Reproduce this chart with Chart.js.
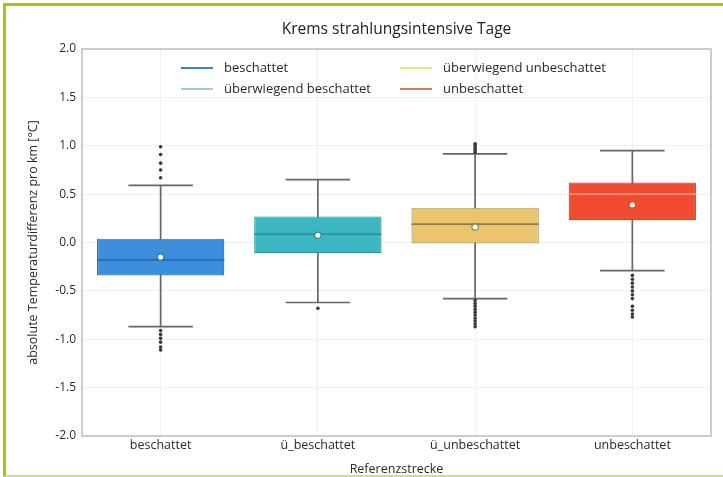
<!DOCTYPE html>
<html>
<head>
<meta charset="utf-8">
<script src="https://cdn.jsdelivr.net/npm/chart.js@4.4.1/dist/chart.umd.min.js"></script>
<style>
  html, body { margin: 0; padding: 0; background: #fff; }
  #wrap { position: relative; width: 723px; height: 477px; overflow: hidden; }
  #frame { position: absolute; left: 3px; top: 3px; width: 740px; height: 474px; border: 3px solid #a6c70a; border-bottom: 2px solid #cfe27a; box-sizing: border-box; pointer-events: none; }
  canvas { position: absolute; left: 0; top: 0; }
</style>
</head>
<body>
<div id="wrap">
  <canvas id="c" width="723" height="477"></canvas>
  <div id="frame"></div>
</div>
<script>
// Reference sections (x categories) and legend names
const categories = ['beschattet', 'ü_beschattet', 'ü_unbeschattet', 'unbeschattet'];
const legendNames = ['beschattet', 'überwiegend beschattet', 'überwiegend unbeschattet', 'unbeschattet'];
const chartTitle = 'Krems strahlungsintensive Tage';

// Box statistics per category (°C per km)
const q1Values      = [-0.34, -0.11, -0.01, 0.23];
const q3Values      = [0.04, 0.27, 0.36, 0.62];
const medianValues  = [-0.18, 0.085, 0.19, 0.50];
const meanValues    = [-0.15, 0.075, 0.16, 0.39];
const whiskerLow    = [-0.87, -0.62, -0.58, -0.29];
const whiskerHigh   = [0.59, 0.65, 0.915, 0.95];

// Outliers per category
const outliers = [
  [0.67, 0.75, 0.82, 0.91, 0.99, -0.91, -0.95, -0.99, -1.03, -1.08, -1.11],
  [-0.68],
  [0.93, 0.95, 0.97, 0.99, 1.01, 1.02, -0.60, -0.63, -0.66, -0.69, -0.72, -0.75, -0.78, -0.81, -0.84, -0.87],
  [-0.34, -0.38, -0.42, -0.46, -0.50, -0.54, -0.58, -0.66, -0.70, -0.74, -0.77]
];

// Y axis ticks
const yTicks = [-2.0, -1.5, -1.0, -0.5, 0.0, 0.5, 1.0, 1.5, 2.0];

// Colours
const boxFill   = ['#3a8edb', '#3bb6c2', '#eac46e', '#f04c31'];
const boxEdge   = ['#2f73b8', '#2e97a0', '#b39a55', '#e5452c'];
const medianCol = ['#2b69a8', '#2a8a93', '#8f7d45', '#f68a74'];
const legendCol = ['#3f7fcf', '#9ccfcf', '#f1df8c', '#df7658'];
const whiskerCol = '#666666';

// Segment builders for the line datasets (gaps separate the segments)
function segments(pairs) {
  const out = [];
  pairs.forEach(p => { out.push(p[0], p[1], {x: p[1].x, y: null}); });
  return out;
}
const whiskerData = segments(categories.map((c, i) => [{x: i, y: whiskerLow[i]}, {x: i, y: whiskerHigh[i]}]));
const capData = segments(
  categories.flatMap((c, i) => [
    [{x: i - 0.205, y: whiskerLow[i]}, {x: i + 0.205, y: whiskerLow[i]}],
    [{x: i - 0.205, y: whiskerHigh[i]}, {x: i + 0.205, y: whiskerHigh[i]}]
  ])
);
const medianDatasets = categories.map((c, i) => ({
  type: 'line',
  xAxisID: 'x2',
  data: [{x: i - 0.405, y: medianValues[i]}, {x: i + 0.405, y: medianValues[i]}],
  borderColor: medianCol[i],
  borderWidth: 1.6,
  pointRadius: 0,
  order: 1
}));
const outlierData = outliers.flatMap((vals, i) => vals.map(v => ({x: i, y: v})));
const meanData = meanValues.map((v, i) => ({x: i, y: v}));

// Title centred over the plot area
const titlePlugin = {
  id: 'plotTitle',
  afterDraw(chart) {
    const ctx = chart.ctx, a = chart.chartArea;
    ctx.save();
    ctx.font = '15.5px "Open Sans"';
    ctx.fillStyle = '#222';
    ctx.textAlign = 'center';
    ctx.textBaseline = 'middle';
    ctx.fillText(chartTitle, (a.left + a.right) / 2, 30);
    ctx.restore();
  }
};

// Legend drawn inside the plot area, two columns
const legendPlugin = {
  id: 'innerLegend',
  afterDraw(chart) {
    const ctx = chart.ctx;
    const a = chart.chartArea;
    const cols = [a.left + 99, a.left + 318];
    const rows = [a.top + 19, a.top + 40];
    const order = [[0, 0], [1, 0], [0, 1], [1, 1]]; // [row, col] for each legend name
    ctx.save();
    ctx.font = '13px "Open Sans"';
    ctx.textBaseline = 'middle';
    ctx.textAlign = 'left';
    legendNames.forEach((name, i) => {
      const [r, c] = order[i];
      const x = cols[c], y = rows[r];
      ctx.strokeStyle = legendCol[i];
      ctx.lineWidth = 2;
      ctx.beginPath();
      ctx.moveTo(x, y);
      ctx.lineTo(x + 32, y);
      ctx.stroke();
      ctx.fillStyle = '#2a2a2a';
      ctx.fillText(name, x + 43, y);
    });
    ctx.restore();
  }
};

// Plot frame on all four sides
const framePlugin = {
  id: 'plotFrame',
  afterDatasetsDraw(chart) {
    const ctx = chart.ctx, a = chart.chartArea;
    ctx.save();
    ctx.strokeStyle = '#bdbdbd';
    ctx.lineWidth = 1.5;
    ctx.strokeRect(a.left, a.top, a.right - a.left, a.bottom - a.top);
    ctx.restore();
  }
};

new Chart(document.getElementById('c'), {
  type: 'bar',
  data: {
    labels: categories,
    datasets: [
      {
        type: 'bar',
        data: categories.map((c, i) => [q1Values[i], q3Values[i]]),
        backgroundColor: boxFill,
        borderColor: boxEdge,
        borderWidth: 1.2,
        borderSkipped: false,
        grouped: false,
        barPercentage: 0.81,
        categoryPercentage: 1.0,
        order: 2
      },
      {
        type: 'line',
        xAxisID: 'x2',
        data: whiskerData,
        borderColor: whiskerCol,
        borderWidth: 1.7,
        pointRadius: 0,
        spanGaps: false,
        order: 3
      },
      {
        type: 'line',
        xAxisID: 'x2',
        data: capData,
        borderColor: whiskerCol,
        borderWidth: 1.7,
        pointRadius: 0,
        spanGaps: false,
        order: 3
      },
      ...medianDatasets,
      {
        type: 'scatter',
        xAxisID: 'x2',
        data: outlierData,
        pointRadius: 1.8,
        pointBackgroundColor: '#3a3a3a',
        pointBorderColor: '#3a3a3a',
        pointBorderWidth: 0,
        order: 0
      },
      {
        type: 'scatter',
        xAxisID: 'x2',
        data: meanData,
        pointRadius: 3.2,
        pointBackgroundColor: '#ffffff',
        pointBorderColor: ['#2f73b8', '#2a8a93', '#8f7d45', '#e5452c'],
        pointBorderWidth: 1.2,
        order: 0
      }
    ]
  },
  options: {
    responsive: false,
    animation: false,
    events: [],
    layout: { padding: { left: 0, right: 12, top: 49, bottom: 0 } },
    plugins: {
      legend: { display: false },
      tooltip: { enabled: false },
      title: { display: false }
    },
    scales: {
      x: {
        type: 'category',
        offset: true,
        grid: { color: '#f0f0f0', lineWidth: 1, drawTicks: false, offset: false },
        border: { display: false },
        ticks: { color: '#2a2a2a', font: { family: '"Open Sans"', size: 12.5 }, padding: 2, maxRotation: 0 },
        title: { display: true, text: 'Referenzstrecke', color: '#2a2a2a', font: { family: '"Open Sans"', size: 12.5, lineHeight: 1.2 }, padding: { top: 6, bottom: 0 } },
        afterFit(s) { s.height = 41; }
      },
      x2: {
        type: 'linear',
        display: false,
        offset: false,
        grid: { offset: false },
        min: -0.5,
        max: 3.5
      },
      y: {
        type: 'linear',
        min: -2,
        max: 2,
        afterBuildTicks(s) { s.ticks = yTicks.map(v => ({ value: v })); },
        grid: { color: '#f0f0f0', lineWidth: 1, drawTicks: false },
        border: { display: false },
        ticks: {
          color: '#2a2a2a',
          font: { family: '"Open Sans"', size: 12 },
          padding: 6,
          callback: v => v.toFixed(1)
        },
        title: { display: true, text: 'absolute Temperaturdifferenz pro km [°C]', color: '#2a2a2a', font: { family: '"Open Sans"', size: 12.5, lineHeight: 1.2 }, padding: { top: 26, bottom: 0 } },
        afterFit(s) { s.width = 82; }
      }
    }
  },
  plugins: [titlePlugin, legendPlugin, framePlugin]
});
</script>
</body>
</html>
